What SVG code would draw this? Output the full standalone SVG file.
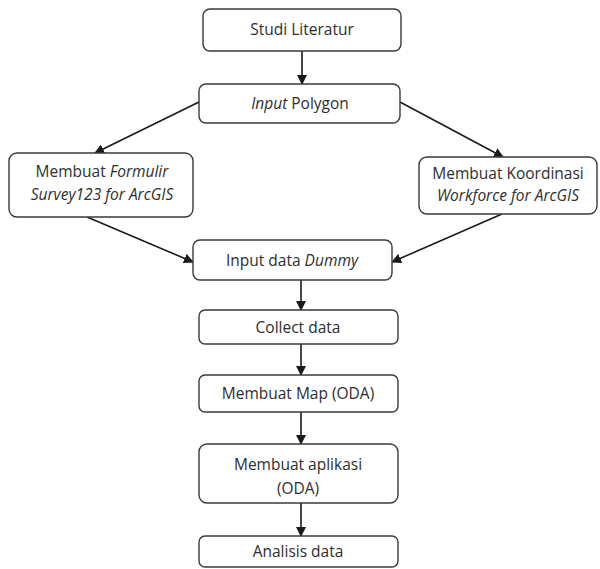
<svg xmlns="http://www.w3.org/2000/svg" width="600" height="569" viewBox="0 0 600 569">
<defs>
<marker id="ah" markerWidth="10" markerHeight="10" refX="9" refY="5" orient="auto" markerUnits="userSpaceOnUse">
<path d="M0,0 L10,5 L0,10 z" fill="#1a1a1a"/>
</marker>
<style>
.box{fill:#fff;stroke:#3a3a3a;stroke-width:1.4}
.t{font-family:"Open Sans",Lato,sans-serif;font-size:15.5px;fill:#2e2e2e;text-anchor:middle}
.i{font-style:italic}
.c{stroke:#1a1a1a;stroke-width:1.6;fill:none;marker-end:url(#ah)}
</style>
</defs>
<rect width="600" height="569" fill="#fff"/>
<g id="connectors">
<line class="c" x1="302" y1="51" x2="302" y2="84"/>
<line class="c" x1="199" y1="102" x2="95" y2="153"/>
<line class="c" x1="400" y1="102" x2="503" y2="157"/>
<line class="c" x1="87" y1="217" x2="193" y2="262"/>
<line class="c" x1="502" y1="214" x2="392" y2="262"/>
<line class="c" x1="301" y1="280" x2="301" y2="310"/>
<line class="c" x1="301" y1="344" x2="301" y2="375"/>
<line class="c" x1="301" y1="412" x2="301" y2="444"/>
<line class="c" x1="301" y1="503" x2="301" y2="536"/>
</g>
<g id="studi">
<rect class="box" x="203" y="9" width="198" height="42" rx="7"/>
<text class="t" x="302" y="35">Studi Literatur</text>
</g>
<g id="input-polygon">
<rect class="box" x="199" y="84" width="201" height="39" rx="7"/>
<text class="t" x="300" y="109"><tspan class="i">Input</tspan> Polygon</text>
</g>
<g id="formulir">
<rect class="box" x="9" y="153" width="184" height="64" rx="8"/>
<text class="t" x="102" y="177">Membuat <tspan class="i">Formulir</tspan></text>
<text class="t" x="102" y="200"><tspan class="i">Survey123 for ArcGIS</tspan></text>
</g>
<g id="workforce">
<rect class="box" x="419" y="157" width="178" height="57" rx="8"/>
<text class="t" x="508" y="179">Membuat Koordinasi</text>
<text class="t" x="508" y="201"><tspan class="i">Workforce for ArcGIS</tspan></text>
</g>
<g id="dummy">
<rect class="box" x="193" y="240" width="199" height="40" rx="7"/>
<text class="t" x="292" y="266">Input data <tspan class="i">Dummy</tspan></text>
</g>
<g id="collect">
<rect class="box" x="199" y="310" width="199" height="34" rx="6"/>
<text class="t" x="298" y="333">Collect data</text>
</g>
<g id="map">
<rect class="box" x="199" y="375" width="199" height="37" rx="6"/>
<text class="t" x="298" y="399">Membuat Map (ODA)</text>
</g>
<g id="aplikasi">
<rect class="box" x="199" y="444" width="199" height="59" rx="8"/>
<text class="t" x="298" y="470">Membuat aplikasi</text>
<text class="t" x="298" y="494">(ODA)</text>
</g>
<g id="analisis">
<rect class="box" x="199" y="536" width="199" height="31" rx="6"/>
<text class="t" x="298" y="557">Analisis data</text>
</g>
</svg>
